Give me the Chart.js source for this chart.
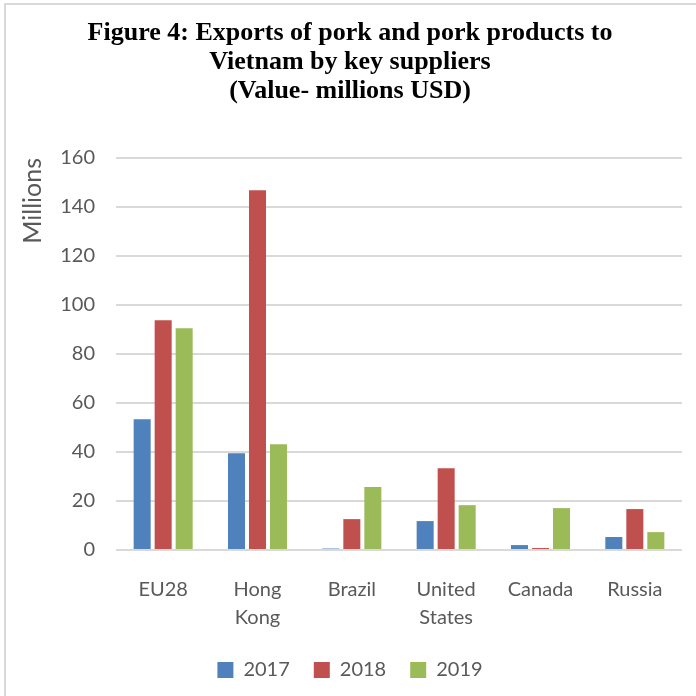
<!DOCTYPE html>
<html>
<head>
<meta charset="utf-8">
<script src="https://cdn.jsdelivr.net/npm/chart.js@4/dist/chart.umd.min.js"></script>
<style>
  html, body { margin: 0; padding: 0; background: #ffffff; }
  #wrap { position: relative; width: 696px; height: 696px; overflow: hidden; }
  #frame { position: absolute; left: 4px; top: 3px; width: 800px; height: 800px;
           border-left: 2px solid #d9d9d9; border-top: 2px solid #d9d9d9; pointer-events: none; }
  canvas { position: absolute; left: 0; top: 0; }
</style>
</head>
<body>
<div id="wrap">
  <canvas id="c" width="696" height="696"></canvas>
  <div id="frame"></div>
</div>
<script>
const titleLines = ['Figure 4: Exports of pork and pork products to', 'Vietnam by key suppliers', '(Value- millions USD)'];
const categories = ['EU28', ['Hong', 'Kong'], 'Brazil', ['United', 'States'], 'Canada', 'Russia'];
const seriesNames = ['2017', '2018', '2019'];
const values2017 = [53.4, 39.5, 0.6, 11.8, 2.0, 5.3];
const values2018 = [93.8, 146.8, 12.6, 33.4, 0.8, 16.7];
const values2019 = [90.5, 43.2, 25.7, 18.3, 17.1, 7.3];
const yTicks = [0, 20, 40, 60, 80, 100, 120, 140, 160];
const colors = ['#4f81bd', '#c0504d', '#9bbb59'];

const sansFont = 'Lato, "Open Sans", sans-serif';
const series = [values2017, values2018, values2019];

new Chart(document.getElementById('c'), {
  type: 'bar',
  data: {
    labels: categories,
    datasets: series.map((vals, i) => ({
      label: seriesNames[i],
      data: vals,
      backgroundColor: colors[i],
      borderWidth: 0,
      categoryPercentage: 0.668,
      barPercentage: 0.81
    }))
  },
  options: {
    responsive: false,
    animation: false,
    devicePixelRatio: 1,
    layout: { padding: { left: 18, right: 14, top: 0, bottom: 6 } },
    plugins: {
      title: {
        display: true,
        text: titleLines,
        color: '#000000',
        font: { family: '"Liberation Serif", "Times New Roman", serif', size: 26, weight: 'bold', lineHeight: 1.115 },
        padding: { top: 19, bottom: 52 }
      },
      legend: {
        position: 'bottom',
        labels: {
          boxWidth: 16,
          boxHeight: 16,
          color: '#595959',
          padding: 24,
          font: { family: sansFont, size: 20 }
        }
      },
      tooltip: { enabled: false }
    },
    scales: {
      x: {
        grid: { display: false, drawTicks: false },
        border: { display: false },
        ticks: {
          color: '#595959',
          padding: 26,
          maxRotation: 0,
          autoSkip: false,
          font: { family: sansFont, size: 20, lineHeight: 1.4 }
        },
        afterFit: (s) => { s.height = 86; }
      },
      y: {
        min: 0,
        max: 160,
        afterBuildTicks: (s) => { s.ticks = yTicks.map(v => ({ value: v })); },
        grid: { color: '#d9d9d9', lineWidth: 2, drawTicks: false },
        border: { display: false },
        ticks: {
          color: '#595959',
          padding: 21,
          font: { family: sansFont, size: 20 }
        },
        title: {
          display: true,
          text: 'Millions',
          align: 'end',
          color: '#595959',
          padding: { top: 0, bottom: 0 },
          font: { family: sansFont, size: 25 }
        },
        afterFit: (s) => { s.width = 98; }
      }
    }
  }
});
</script>
</body>
</html>
